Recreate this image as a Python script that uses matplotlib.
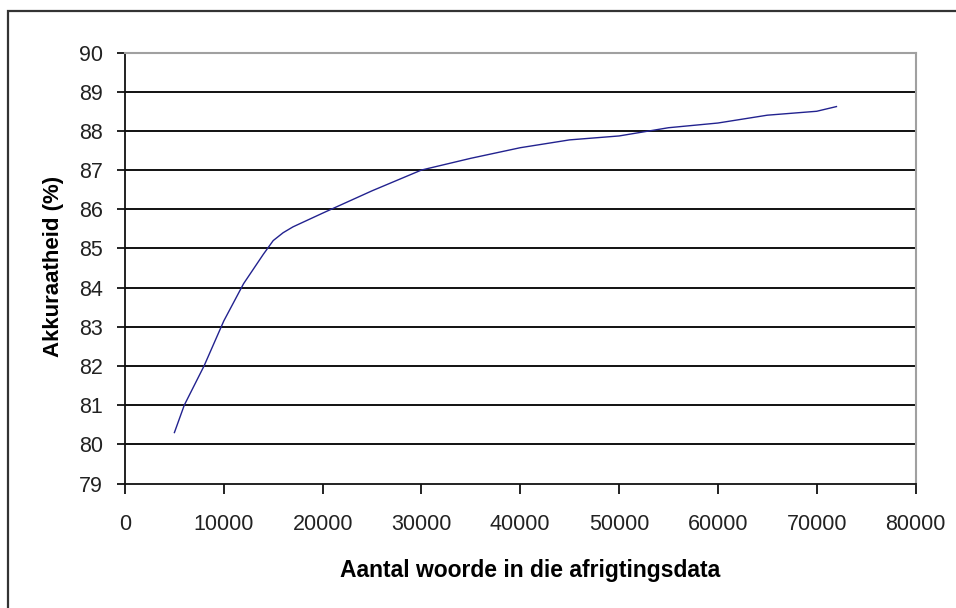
import matplotlib
matplotlib.use('Agg')
import matplotlib.pyplot as plt
from matplotlib.patches import Rectangle

# words in training data vs accuracy
woorde = [5000, 6000, 8000, 10000, 12000, 14000, 15000, 16000, 17000, 20000,
          25000, 30000, 35000, 40000, 45000, 50000, 55000, 60000, 65000, 70000, 72000]
akkuraatheid = [80.3, 81.0, 82.0, 83.15, 84.1, 84.85, 85.2, 85.4, 85.55, 85.9,
                86.47, 87.0, 87.3, 87.57, 87.77, 87.87, 88.08, 88.2, 88.4, 88.5, 88.62]

x_ticks = [0, 10000, 20000, 30000, 40000, 50000, 60000, 70000, 80000]
y_ticks = [79, 80, 81, 82, 83, 84, 85, 86, 87, 88, 89, 90]

tick_font = ['Liberation Sans', 'DejaVu Sans']
label_font = ['Liberation Sans', 'DejaVu Sans']


def main():
    fig = plt.figure(figsize=(9.56, 6.08), dpi=100)
    fig.patch.set_facecolor('white')

    # outer chart border (right and bottom edges fall outside the image)
    fig.patches.append(Rectangle((8 / 956, -0.05), 1.2, 1 - 11 / 608 + 0.05,
                                 transform=fig.transFigure, fill=False,
                                 edgecolor='#333333', linewidth=1.6))

    ax = fig.add_axes([125 / 956, (608 - 483.5) / 608, (915.5 - 125) / 956, (483.5 - 52.5) / 608])

    for y in y_ticks[1:-1]:
        ax.axhline(y, color='#111111', linewidth=1.4, zorder=1)

    ax.plot(woorde, akkuraatheid, color='#22228f', linewidth=1.0, zorder=3)

    ax.set_xlim(0, 80000)
    ax.set_ylim(79, 90)
    ax.set_xticks(x_ticks)
    ax.set_yticks(y_ticks)
    ax.set_xticklabels([str(t) for t in x_ticks], family=tick_font, fontsize=15.5, color='#222222')
    ax.set_yticklabels([str(t) for t in y_ticks], family=tick_font, fontsize=15.5, color='#222222')
    ax.tick_params(axis='y', direction='out', length=6, width=1.3, pad=10, color='#111111')
    ax.tick_params(axis='x', direction='out', length=7, width=1.3, pad=15, color='#111111')

    ax.spines['left'].set_color('#111111')
    ax.spines['bottom'].set_color('#111111')
    ax.spines['left'].set_linewidth(1.3)
    ax.spines['bottom'].set_linewidth(1.3)
    ax.spines['top'].set_color('#a0a0a0')
    ax.spines['right'].set_color('#a0a0a0')
    ax.spines['top'].set_linewidth(1.5)
    ax.spines['right'].set_linewidth(1.5)

    fig.text(530 / 956, 1 - 571 / 608, 'Aantal woorde in die afrigtingsdata',
             ha='center', va='center', fontsize=16.5, fontweight='bold', family=label_font)
    fig.text(54 / 956, 1 - 266 / 608, 'Akkuraatheid (%)', rotation=90,
             ha='center', va='center', fontsize=16, fontweight='bold', family=label_font)

    fig.savefig('out.png', dpi=100)


if __name__ == "__main__":
    main()
